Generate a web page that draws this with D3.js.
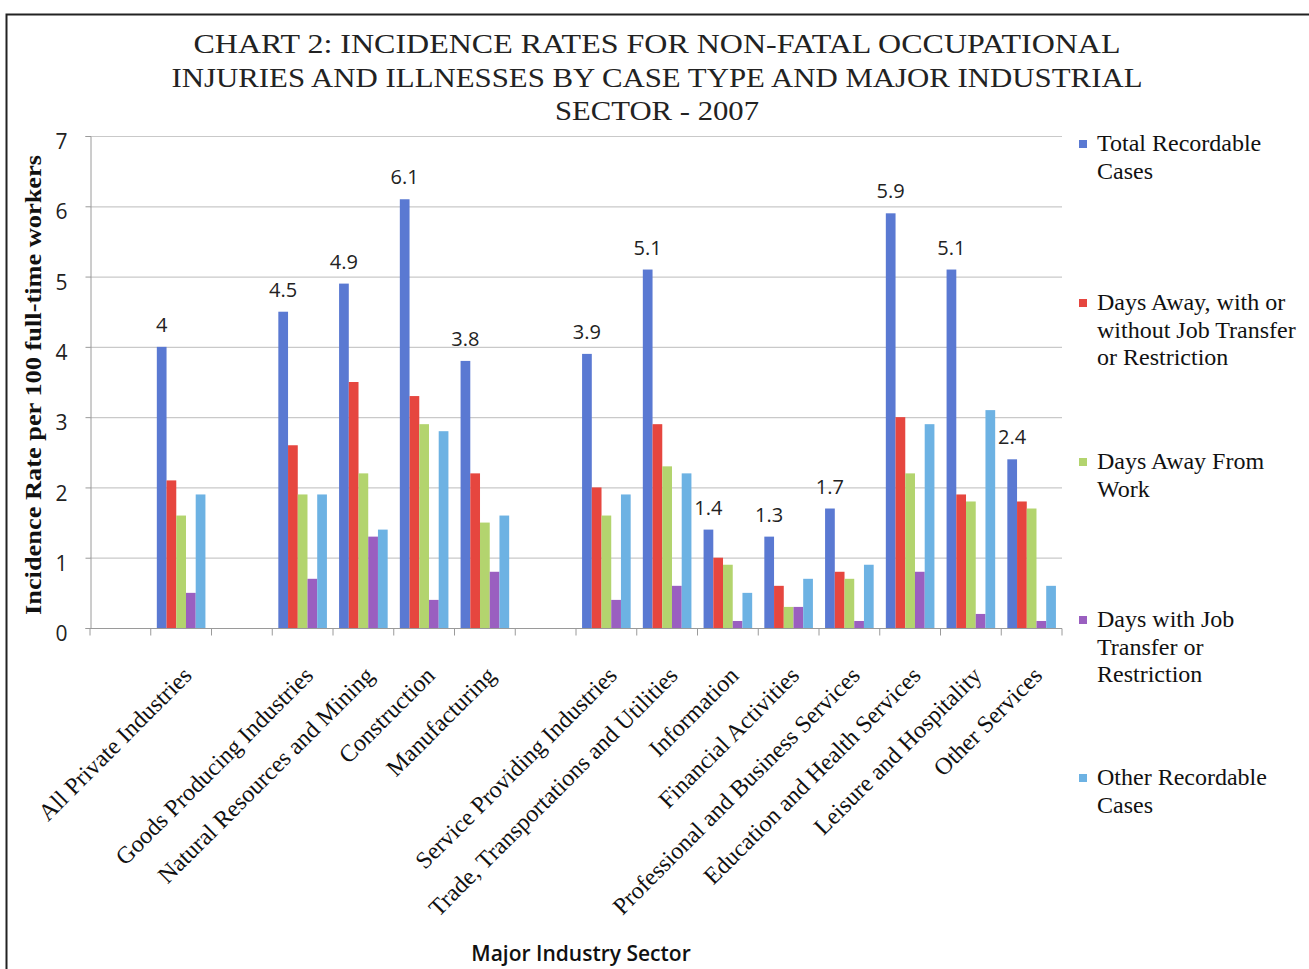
<!DOCTYPE html>
<html>
<head>
<meta charset="utf-8">
<script src="https://cdn.jsdelivr.net/npm/d3@7/dist/d3.min.js"></script>
<style>
  html, body { margin: 0; padding: 0; background: #fff; overflow: hidden; }
  svg { display: block; }
</style>
</head>
<body>
<svg id="chart" width="1309" height="969"></svg>
<script>
// Industry sectors; empty strings are spacer slots between groups
const categories = [
  "", "All Private Industries", "",
  "Goods Producing Industries", "Natural Resources and Mining", "Construction", "Manufacturing", "",
  "Service Providing Industries", "Trade, Transportations and Utilities", "Information",
  "Financial Activities", "Professional and Business Services", "Education and Health Services",
  "Leisure and Hospitality", "Other Services"
];

// Incidence rates per 100 full-time workers (null = spacer)
const totalRecordable   = [null, 4.0, null, 4.5, 4.9, 6.1, 3.8, null, 3.9, 5.1, 1.4, 1.3, 1.7, 5.9, 5.1, 2.4];
const daysAwayWithOrWithout = [null, 2.1, null, 2.6, 3.5, 3.3, 2.2, null, 2.0, 2.9, 1.0, 0.6, 0.8, 3.0, 1.9, 1.8];
const daysAwayFromWork  = [null, 1.6, null, 1.9, 2.2, 2.9, 1.5, null, 1.6, 2.3, 0.9, 0.3, 0.7, 2.2, 1.8, 1.7];
const daysJobTransfer   = [null, 0.5, null, 0.7, 1.3, 0.4, 0.8, null, 0.4, 0.6, 0.1, 0.3, 0.1, 0.8, 0.2, 0.1];
const otherRecordable   = [null, 1.9, null, 1.9, 1.4, 2.8, 1.6, null, 1.9, 2.2, 0.5, 0.7, 0.9, 2.9, 3.1, 0.6];

const seriesNames = [
  ["Total Recordable", "Cases"],
  ["Days Away, with or", "without Job Transfer", "or Restriction"],
  ["Days Away From", "Work"],
  ["Days with Job", "Transfer or", "Restriction"],
  ["Other Recordable", "Cases"]
];
const seriesColors = ["#5a79d2", "#e6463f", "#b3d46e", "#9a5fc0", "#6db2e3"];
const seriesValues = [totalRecordable, daysAwayWithOrWithout, daysAwayFromWork, daysJobTransfer, otherRecordable];
const yTicks = [0, 1, 2, 3, 4, 5, 6, 7];

const titleLines = [
  "CHART 2:  INCIDENCE RATES FOR NON-FATAL OCCUPATIONAL",
  "INJURIES AND ILLNESSES BY CASE TYPE AND MAJOR INDUSTRIAL",
  "SECTOR - 2007"
];

const svg = d3.select("#chart");

// outer frame (only left and top edges fall inside the view)
svg.append("rect")
  .attr("x", 6.5).attr("y", 14.5).attr("width", 1400).attr("height", 1100)
  .attr("fill", "none").attr("stroke", "#222").attr("stroke-width", 2);

const plot = { left: 90, right: 1062, top: 136, bottom: 628 };

const x0 = d3.scaleBand()
  .domain(d3.range(categories.length))
  .range([plot.left, plot.right])
  .padding(0);

const x1 = d3.scaleBand()
  .domain(d3.range(seriesValues.length))
  .range([x0.bandwidth() * 0.1, x0.bandwidth() * 0.9])
  .padding(0);

const y = d3.scaleLinear().domain([0, 7]).range([plot.bottom, plot.top]);

// gridlines
svg.append("g")
  .selectAll("line")
  .data(yTicks)
  .join("line")
  .attr("x1", plot.left).attr("x2", plot.right)
  .attr("y1", d => y(d) + 0.5).attr("y2", d => y(d) + 0.5)
  .attr("stroke", "#c9c9c9").attr("stroke-width", 1.2);

// y axis
const yAxis = d3.axisLeft(y).tickValues(yTicks).tickSize(5).tickPadding(18).tickFormat(d3.format("d"));
const yg = svg.append("g").attr("transform", `translate(${plot.left + 0.5},0)`).call(yAxis);
yg.select(".domain").attr("stroke", "#9a9a9a");
yg.selectAll(".tick line").attr("stroke", "#9a9a9a");
yg.selectAll(".tick text")
  .attr("font-family", "'Open Sans', sans-serif")
  .attr("font-size", 21).attr("fill", "#222")
  .attr("dy", "0.6em");

// x axis with ticks at slot boundaries
const xg = svg.append("g").attr("transform", `translate(0,${plot.bottom + 0.5})`);
xg.append("line").attr("x1", plot.left).attr("x2", plot.right).attr("stroke", "#9a9a9a");
xg.selectAll("line.tk")
  .data(d3.range(categories.length + 1))
  .join("line").attr("class", "tk")
  .attr("x1", i => plot.left + i * x0.step()).attr("x2", i => plot.left + i * x0.step())
  .attr("y1", 0).attr("y2", 7)
  .attr("stroke", "#9a9a9a");

// bars
const groups = svg.append("g")
  .selectAll("g")
  .data(categories.map((c, i) => i))
  .join("g")
  .attr("transform", i => `translate(${x0(i)},0)`);

groups.selectAll("rect")
  .data(i => seriesValues.map((vals, s) => ({ s, v: vals[i] })).filter(d => d.v != null))
  .join("rect")
  .attr("x", d => x1(d.s))
  .attr("width", x1.bandwidth())
  .attr("y", d => y(d.v))
  .attr("height", d => y(0) - y(d.v))
  .attr("fill", d => seriesColors[d.s]);

// value labels for total recordable cases
svg.append("g")
  .selectAll("text")
  .data(categories.map((c, i) => i).filter(i => totalRecordable[i] != null))
  .join("text")
  .attr("x", i => x0(i) + x1(0) + x1.bandwidth() / 2)
  .attr("y", i => y(totalRecordable[i]) - 15)
  .attr("text-anchor", "middle")
  .attr("font-family", "'Open Sans', sans-serif")
  .attr("font-size", 20).attr("fill", "#222")
  .text(i => d3.format("")(totalRecordable[i]));

// category labels
svg.append("g")
  .selectAll("text")
  .data(categories.map((c, i) => i).filter(i => categories[i] !== ""))
  .join("text")
  .attr("transform", i => `translate(${x0(i) + x0.bandwidth() / 2 + 12},${plot.bottom + 49}) rotate(-45)`)
  .attr("text-anchor", "end")
  .attr("font-family", "'Liberation Serif', serif")
  .attr("font-size", 24).attr("fill", "#111")
  .text(i => categories[i]);

// axis titles
svg.append("text")
  .attr("transform", "translate(41,385) rotate(-90)")
  .attr("text-anchor", "middle")
  .attr("font-family", "'Liberation Serif', serif")
  .attr("font-weight", "bold").attr("font-size", 23).attr("fill", "#111")
  .attr("textLength", 460).attr("lengthAdjust", "spacingAndGlyphs")
  .text("Incidence Rate per 100 full-time workers");

svg.append("text")
  .attr("x", 581).attr("y", 961)
  .attr("text-anchor", "middle")
  .attr("font-family", "'Open Sans', sans-serif")
  .attr("font-weight", 600).attr("font-size", 21).attr("fill", "#111")
  .text("Major Industry Sector");

// title
const titleWidths = [927, 971, 204];
svg.append("g")
  .selectAll("text")
  .data(titleLines)
  .join("text")
  .attr("x", 657).attr("y", (d, i) => 53 + i * 33.5)
  .attr("text-anchor", "middle")
  .attr("font-family", "'Liberation Serif', serif")
  .attr("font-size", 27).attr("fill", "#222")
  .attr("textLength", (d, i) => titleWidths[i]).attr("lengthAdjust", "spacingAndGlyphs")
  .text(d => d);

// legend
const legendTops = [151, 310, 469, 627, 785];
const legend = svg.append("g")
  .selectAll("g")
  .data(seriesNames)
  .join("g")
  .attr("transform", (d, i) => `translate(1079,${legendTops[i]})`);

legend.append("rect")
  .attr("x", 0).attr("y", -11).attr("width", 8).attr("height", 8)
  .attr("fill", (d, i) => seriesColors[i]);

legend.selectAll("text")
  .data(d => d)
  .join("text")
  .attr("x", 18).attr("y", (d, j) => j * 27.5)
  .attr("font-family", "'Liberation Serif', serif")
  .attr("font-size", 24).attr("fill", "#111")
  .text(d => d);
</script>
</body>
</html>
